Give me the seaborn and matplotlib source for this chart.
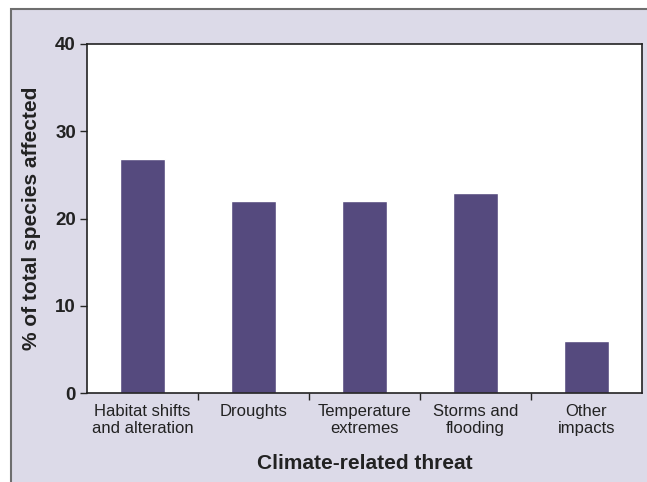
import pandas as pd
import numpy as np
import matplotlib.pyplot as plt
import seaborn as sns
from matplotlib.patches import Rectangle

# ***** Data ***** #
threats = ["Habitat shifts\nand alteration", "Droughts", "Temperature\nextremes",
           "Storms and\nflooding", "Other\nimpacts"]
pct_affected = [26.8, 22.0, 22.0, 22.9, 6.0]
y_ticks = [0, 10, 20, 30, 40]

bar_color = "#554a7e"
panel_color = "#dcdae8"

sns.set_style("white")
plt.rcParams["font.family"] = ["Liberation Sans", "DejaVu Sans"]

df = pd.DataFrame({"threat": threats, "pct": pct_affected})

fig = plt.figure(figsize=(6.47, 4.82), dpi=100, facecolor="white")
# lavender panel with grey frame (runs off the right and bottom edges)
fig.patches.append(Rectangle((11 / 647, -0.05), 1.0, 0.05 + 1 - 9 / 482,
                             transform=fig.transFigure, facecolor=panel_color,
                             edgecolor="#6e6e6e", linewidth=1.5, zorder=-1))

ax = fig.add_axes([87 / 647, 1 - 393 / 482, (642 - 87) / 647, (393 - 44) / 482])
ax.set_zorder(2)
ax.set_facecolor("white")

sns.barplot(data=df, x="threat", y="pct", color=bar_color, width=0.4,
            saturation=1, ax=ax)

ax.set_xlim(-0.5, 4.5)
ax.set_ylim(0, 40)
ax.set_yticks(y_ticks)
ax.set_yticklabels([str(t) for t in y_ticks], fontsize=13.5, fontweight="bold",
                   color="#222222")
ax.tick_params(axis="y", length=5, width=1, direction="out", pad=3, left=True)

# category boundaries get the ticks, not the labels
ax.tick_params(axis="x", which="major", length=0, pad=8, labelsize=12,
               labelcolor="#222222")
for lbl in ax.get_xticklabels():
    lbl.set_linespacing(1.15)
ax.set_xticks([0.5, 1.5, 2.5, 3.5], minor=True)
ax.tick_params(axis="x", which="minor", length=5, width=1, direction="out",
               bottom=True)

for s in ax.spines.values():
    s.set_visible(True)
    s.set_color("#222222")
    s.set_linewidth(1.2)

ax.set_xlabel("Climate-related threat", fontsize=15, fontweight="bold",
              color="#222222", labelpad=13)
ax.set_ylabel("% of total species affected", fontsize=15, fontweight="bold",
              color="#222222", labelpad=10)

plt.savefig("out.png", dpi=100, facecolor=fig.get_facecolor())
